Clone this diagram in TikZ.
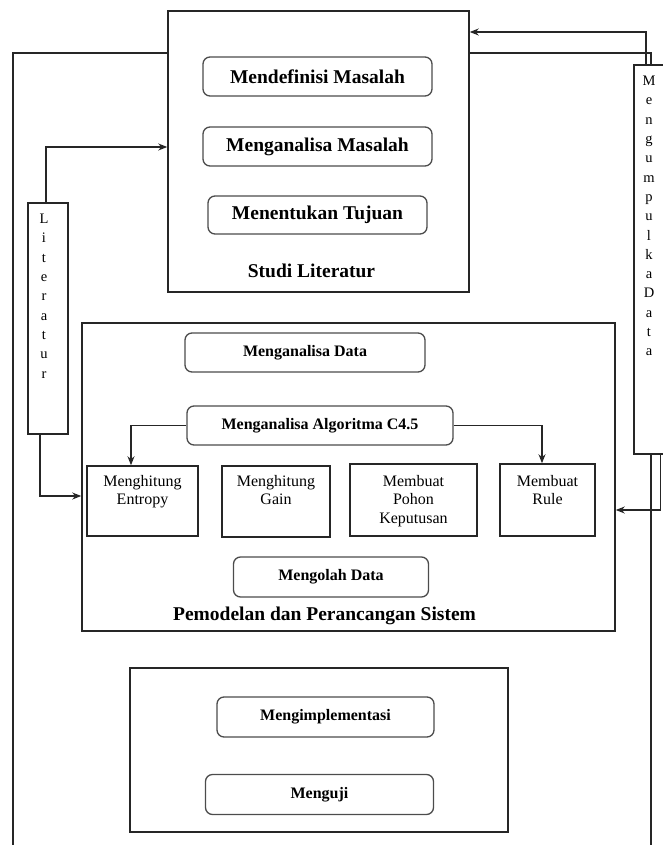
\documentclass[tikz,border=0pt]{standalone}
\usepackage{fontspec}
\setmainfont{Liberation Serif}
\usetikzlibrary{arrows.meta}
\begin{document}
\begin{tikzpicture}[x=1pt,y=-1pt,
  frame/.style={draw=black!85, line width=1.5pt, inner sep=0pt},
  rbox/.style={draw=black!70, line width=1.3pt, rounded corners=7pt, inner sep=0pt, font=\bfseries\fontsize{16}{18}\selectfont},
  bigr/.style={rbox, font=\bfseries\fontsize{19.5}{22}\selectfont},
  sbox/.style={draw=black!85, line width=1.5pt, inner sep=0pt},
  stext/.style={align=center, font=\fontsize{16}{18.5}\selectfont, anchor=north, inner sep=0pt},
  vtext/.style={align=center, font=\fontsize{14.5}{19.3}\selectfont, anchor=north, inner sep=0pt},
  titletext/.style={font=\bfseries\fontsize{19.5}{22}\selectfont, inner sep=0pt},
  conn/.style={line width=1.3pt, draw=black!85},
  arr/.style={conn, -{Stealth[length=9pt,width=7pt]}}
]
\useasboundingbox (0,0) rectangle (662,845);

% containers
\node[frame, minimum width=301pt, minimum height=281pt] (studi) at (318.5,151.5) {};
\node[frame, minimum width=533pt, minimum height=308pt] (pem) at (348.5,477) {};
\node[frame, minimum width=378pt, minimum height=164pt] (impl) at (319,750) {};
\node[frame, minimum width=30pt, minimum height=389pt] (mk) at (649,259.5) {};
\node[frame, minimum width=40pt, minimum height=231pt] (lit) at (48,318.5) {};

% titles
\node[titletext] (tstudi) at (311.5,271) {Studi Literatur};
\node[titletext] (tpem) at (324.5,616) {Pemodelan dan Perancangan Sistem};

% vertical texts
\node[vtext] (tmk) at (649,76) {M\\e\\n\\g\\u\\m\\p\\u\\l\\k\\a\\D\\a\\t\\a};
\node[vtext] (tlit) at (44,214) {L\\i\\t\\e\\r\\a\\t\\u\\r};

% studi literatur steps
\node[bigr, minimum width=229pt, minimum height=39pt] (mdef) at (317.5,76.5) {Mendefinisi Masalah};
\node[bigr, minimum width=229pt, minimum height=39pt] (mana) at (317.5,146.5) {Menganalisa Masalah};
\node[bigr, minimum width=219pt, minimum height=38pt] (mtuj) at (317.5,215) {Menentukan Tujuan};

% pemodelan
\node[rbox, minimum width=240pt, minimum height=39pt] (mdata) at (305,352.5) {Menganalisa Data};
\node[rbox, minimum width=266pt, minimum height=39pt] (malg) at (320,425.5) {Menganalisa Algoritma C4.5};
\node[sbox, minimum width=111pt, minimum height=70pt] (entropy) at (142.5,501) {};
\node[sbox, minimum width=108pt, minimum height=71pt] (gain) at (276,501.5) {};
\node[sbox, minimum width=127pt, minimum height=72pt] (pohon) at (413.5,500) {};
\node[sbox, minimum width=95pt, minimum height=72pt] (rule) at (547.5,500) {};
\node[stext] (tentropy) at (142.5,475) {Menghitung\\Entropy};
\node[stext] (tgain) at (276,475) {Menghitung\\Gain};
\node[stext] (tpohon) at (413.5,475) {Membuat\\Pohon\\Keputusan};
\node[stext] (trule) at (547.5,475) {Membuat\\Rule};
\node[rbox, minimum width=195pt, minimum height=40pt] (molah) at (331,577) {Mengolah Data};

% implementasi
\node[rbox, minimum width=217pt, minimum height=40pt] (mimp) at (325.5,717) {Mengimplementasi};
\node[rbox, minimum width=228pt, minimum height=40pt] (muji) at (319.5,794.5) {Menguji};

% helper coordinates
\coordinate (yA) at (0,32);
\coordinate (yB) at (0,53);
\coordinate (yL) at (0,147);
\coordinate (yP) at (0,496);
\coordinate (yR) at (0,510);
\coordinate (xA) at (646,0);
\coordinate (xR1) at (651,0);
\coordinate (xR2) at (660.5,0);
\coordinate (xl1) at (46,0);
\coordinate (xl2) at (40,0);
\coordinate (xe) at (131,0);
\coordinate (xr) at (542,0);
\coordinate (cornerL) at (13,53);
\coordinate (botL) at (13,850);
\coordinate (botR) at (651,850);

% connectors
\draw[conn] (studi.west |- yB) -- (cornerL) -- (botL);
\draw[conn] (studi.east |- yB) -| (mk.north -| xR1);
\draw[conn] (mk.south -| xR1) -- (botR);
\draw[arr] (mk.north -| xA) |- (studi.east |- yA);
\draw[arr] (mk.south -| xR2) |- (pem.east |- yR);
\draw[arr] (lit.north -| xl1) |- (studi.west |- yL);
\draw[arr] (lit.south -| xl2) |- (pem.west |- yP);
\draw[arr] (malg.west) -| (entropy.north -| xe);
\draw[arr] (malg.east) -| (rule.north -| xr);
\end{tikzpicture}
\end{document}
